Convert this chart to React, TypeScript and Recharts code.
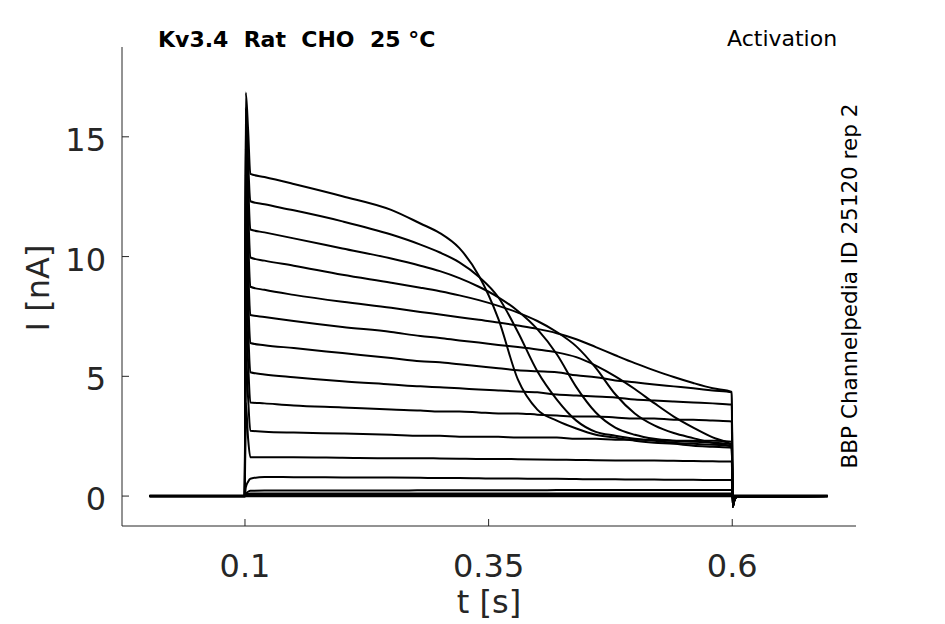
import { LineChart, Line, XAxis, YAxis } from 'recharts';

const FONT = '"DejaVu Sans", sans-serif';
const AXIS = '#262626';

// sample times [s]
const TIME = [
  0.002, 0.0998, 0.1008, 0.1032, 0.1055, 0.12, 0.15, 0.2, 0.25, 0.28, 0.3, 0.32, 0.34, 0.36, 0.38, 0.4,
  0.42, 0.44, 0.46, 0.48, 0.5, 0.52, 0.54, 0.56, 0.58, 0.5995, 0.6005, 0.602, 0.605, 0.698,
];

// currents [nA], one sweep per array
const TRACE_1 = [0, 0, 16.85, 15.3, 13.45, 13.32, 13.03, 12.52, 11.95, 11.38, 10.98, 10.35, 9.2, 7.4, 4.87, 3.61, 3.15, 2.82, 2.56, 2.44, 2.31, 2.23, 2.18, 2.1, 2.06, 2.02, -0.45, -0.2, -0.03, 0];
const TRACE_2 = [0, 0, 16.2, 14.0, 12.31, 12.18, 11.93, 11.47, 10.92, 10.5, 10.17, 9.76, 9.16, 8.3, 6.85, 5.21, 4.03, 3.15, 2.68, 2.52, 2.39, 2.31, 2.23, 2.18, 2.14, 2.1, -0.45, -0.2, -0.03, 0];
const TRACE_3 = [0, 0, 15.4, 13.1, 11.13, 11.01, 10.76, 10.34, 9.92, 9.62, 9.39, 9.1, 8.74, 8.3, 7.73, 6.97, 5.92, 4.55, 3.49, 2.86, 2.56, 2.39, 2.31, 2.27, 2.23, 2.18, -0.45, -0.2, -0.03, 0];
const TRACE_4 = [0, 0, 14.5, 12.0, 9.96, 9.83, 9.62, 9.24, 8.91, 8.7, 8.55, 8.38, 8.18, 7.94, 7.66, 7.31, 6.85, 6.25, 5.35, 4.25, 3.45, 2.95, 2.63, 2.42, 2.22, 2.06, -0.45, -0.2, -0.03, 0];
const TRACE_5 = [0, 0, 13.4, 10.8, 8.74, 8.61, 8.4, 8.11, 7.86, 7.69, 7.58, 7.47, 7.36, 7.25, 7.12, 6.98, 6.8, 6.55, 6.22, 5.88, 5.55, 5.25, 4.97, 4.72, 4.5, 4.35, -0.45, -0.2, -0.03, 0];
const TRACE_6 = [0, 0, 12.2, 9.6, 7.56, 7.48, 7.31, 7.06, 6.85, 6.68, 6.6, 6.5, 6.41, 6.31, 6.22, 6.12, 6.0, 5.8, 5.45, 5.0, 4.47, 3.88, 3.32, 2.86, 2.45, 2.12, -0.45, -0.2, -0.03, 0];
const TRACE_7 = [0, 0, 10.9, 8.3, 6.39, 6.3, 6.18, 5.97, 5.76, 5.63, 5.59, 5.5, 5.42, 5.34, 5.25, 5.21, 5.17, 5.04, 4.96, 4.83, 4.75, 4.66, 4.58, 4.5, 4.41, 4.33, -0.45, -0.2, -0.03, 0];
const TRACE_8 = [0, 0, 9.4, 7.0, 5.17, 5.08, 4.96, 4.79, 4.66, 4.58, 4.54, 4.5, 4.45, 4.41, 4.37, 4.33, 4.24, 4.2, 4.16, 4.12, 4.03, 3.99, 3.95, 3.91, 3.87, 3.82, -0.4, -0.18, -0.03, 0];
const TRACE_9 = [0, 0, 7.8, 5.6, 3.91, 3.87, 3.78, 3.7, 3.61, 3.57, 3.53, 3.53, 3.49, 3.45, 3.45, 3.4, 3.36, 3.32, 3.32, 3.28, 3.24, 3.24, 3.19, 3.19, 3.15, 3.11, -0.35, -0.15, -0.02, 0];
const TRACE_10 = [0, 0, 6.0, 4.1, 2.73, 2.69, 2.65, 2.61, 2.56, 2.52, 2.52, 2.48, 2.48, 2.48, 2.44, 2.44, 2.44, 2.39, 2.39, 2.35, 2.35, 2.35, 2.31, 2.31, 2.31, 2.27, -0.3, -0.12, -0.02, 0];
const TRACE_11 = [0, 0, 3.9, 2.4, 1.62, 1.62, 1.62, 1.6, 1.58, 1.58, 1.57, 1.56, 1.55, 1.55, 1.54, 1.53, 1.52, 1.51, 1.5, 1.49, 1.48, 1.48, 1.47, 1.46, 1.45, 1.44, -0.2, -0.08, -0.01, 0];
const TRACE_12 = [0, 0, 0.35, 0.6, 0.72, 0.8, 0.79, 0.78, 0.77, 0.76, 0.75, 0.75, 0.74, 0.73, 0.73, 0.72, 0.72, 0.71, 0.7, 0.7, 0.69, 0.69, 0.68, 0.68, 0.67, 0.67, -0.1, -0.04, 0, 0];
const TRACE_13 = [0, 0, 0.1, 0.18, 0.22, 0.23, 0.23, 0.23, 0.23, 0.24, 0.24, 0.24, 0.24, 0.24, 0.24, 0.24, 0.25, 0.25, 0.25, 0.25, 0.25, 0.25, 0.25, 0.25, 0.25, 0.25, -0.05, -0.02, 0, 0];
const TRACE_14 = [0, 0, 0.05, 0.09, 0.11, 0.11, 0.11, 0.11, 0.11, 0.11, 0.11, 0.11, 0.11, 0.11, 0.11, 0.11, 0.11, 0.11, 0.11, 0.11, 0.11, 0.11, 0.11, 0.11, 0.11, 0.11, -0.03, -0.01, 0, 0];
const TRACE_15 = [0, 0, 0.02, 0.02, 0.02, 0.02, 0.02, 0.02, 0.02, 0.02, 0.02, 0.02, 0.02, 0.02, 0.02, 0.02, 0.02, 0.02, 0.02, 0.02, 0.02, 0.02, 0.02, 0.02, 0.02, 0.02, 0, 0, 0, 0];

const TRACES = [
  TRACE_1, TRACE_2, TRACE_3, TRACE_4, TRACE_5, TRACE_6, TRACE_7, TRACE_8,
  TRACE_9, TRACE_10, TRACE_11, TRACE_12, TRACE_13, TRACE_14, TRACE_15,
];

const X_TICKS = [0.1, 0.35, 0.6];
const Y_TICKS = [0, 5, 10, 15];

const data = TIME.map((t, i) => {
  const row: { [key: string]: number } = { t };
  TRACES.forEach((tr, k) => {
    row[`s${k}`] = tr[i];
  });
  return row;
});

function YTick({ x, y, payload }: any) {
  return (
    <g>
      <line x1={x} x2={x + 7} y1={y} y2={y} stroke={AXIS} strokeWidth={1} />
      <text x={x - 16} y={y + 14} textAnchor="end" fontSize={32} fill={AXIS} fontFamily={FONT}>
        {payload.value}
      </text>
    </g>
  );
}

function XTick({ x, y, payload }: any) {
  return (
    <g>
      <line x1={x} x2={x} y1={y} y2={y - 7} stroke={AXIS} strokeWidth={1} />
      <text x={x} y={y + 51} textAnchor="middle" fontSize={32} fill={AXIS} fontFamily={FONT}>
        {payload.value}
      </text>
    </g>
  );
}

export default function App() {
  return (
    <div style={{ position: 'absolute', left: 0, top: 0, width: 945, height: 624, background: '#fff' }}>
      <LineChart width={945} height={624} data={data} margin={{ top: 47, right: 89, bottom: 0, left: 0 }}>
        <XAxis
          dataKey="t"
          type="number"
          domain={[-0.0262, 0.727]}
          ticks={X_TICKS}
          height={98}
          tickSize={0}
          tickMargin={0}
          tickLine={false}
          axisLine={{ stroke: AXIS, strokeWidth: 1 }}
          tick={<XTick />}
          interval={0}
        />
        <YAxis
          type="number"
          domain={[-1.25, 18.75]}
          ticks={Y_TICKS}
          width={122}
          tickSize={0}
          tickMargin={0}
          tickLine={false}
          axisLine={{ stroke: AXIS, strokeWidth: 1 }}
          tick={<YTick />}
          interval={0}
        />
        {TRACES.map((_, k) => (
          <Line
            key={k}
            type="monotone"
            dataKey={`s${k}`}
            stroke="#000"
            strokeWidth={k === 14 ? 3.2 : 2}
            dot={false}
            activeDot={false}
            isAnimationActive={false}
          />
        ))}
      </LineChart>
      <svg
        width={945}
        height={624}
        style={{ position: 'absolute', left: 0, top: 0, pointerEvents: 'none' }}
      >
        <text x={158} y={47} fontSize={22} fontWeight="bold" fill="#000" fontFamily={FONT} style={{ whiteSpace: 'pre' }}>
          {'Kv3.4  Rat  CHO  25 °C'}
        </text>
        <text x={727} y={46} fontSize={22} fill="#000" fontFamily={FONT}>
          Activation
        </text>
        <text
          x={857}
          y={286}
          fontSize={21.5}
          fill="#000"
          fontFamily={FONT}
          textAnchor="middle"
          transform="rotate(-90 857 286)"
        >
          BBP Channelpedia ID 25120 rep 2
        </text>
        <text x={489} y={613} fontSize={32} fill={AXIS} fontFamily={FONT} textAnchor="middle">
          t [s]
        </text>
        <text
          x={49}
          y={288}
          fontSize={32}
          fill={AXIS}
          fontFamily={FONT}
          textAnchor="middle"
          transform="rotate(-90 49 288)"
        >
          I [nA]
        </text>
      </svg>
    </div>
  );
}
